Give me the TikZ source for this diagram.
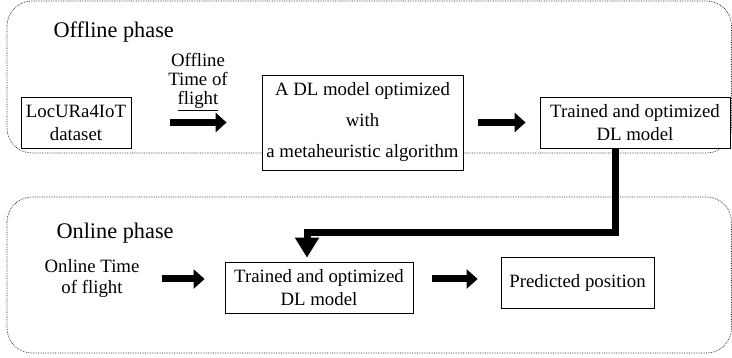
\documentclass[tikz,border=0pt]{standalone}
\usepackage{fontspec}
\setmainfont{Liberation Serif}
\usetikzlibrary{arrows.meta}

\begin{document}
\begin{tikzpicture}[x=1pt,y=-1pt,
    phase/.style={draw=black!85,densely dotted,line width=0.7pt,rounded corners=25pt},
    box/.style={draw,line width=0.8pt,fill=white,inner sep=0pt,align=center,font=\fontsize{18.8}{23}\selectfont},
    lbl/.style={align=center,font=\fontsize{18.8}{19}\selectfont},
    blockarrow/.style={line width=7pt,-{Triangle[length=11pt,width=19pt]}},
    fbarrow/.style={line width=7pt,-{Triangle[length=20pt,width=23pt]}}]
            \useasboundingbox (0,0) rectangle (732,358);
            \draw[phase] (7,1) rectangle (731.5,153);
            \draw[phase] (7,197) rectangle (731.5,353);
            \node[anchor=west,font=\fontsize{22.3}{26}\selectfont] (offph) at (50,32) {Offline phase};
            \node[anchor=west,font=\fontsize{22.3}{26}\selectfont] (onph) at (53,233) {Online phase};
            % offline part
            \node[box,minimum width=110pt,minimum height=51pt] (data) at (76,122.5) {LocURa4IoT\\dataset};
            \node[lbl] (offtof) at (198,82) {Offline\\Time of\\\underline{flight}};
            \node[box,minimum width=201pt,minimum height=95pt,font=\fontsize{18.8}{31}\selectfont] (dlmodel) at (362.5,122.5) {A DL model optimized\\with\\a metaheuristic algorithm};
            \node[box,minimum width=190pt,minimum height=51pt] (trained1) at (635,122.5) {Trained and optimized\\DL model};
            \draw[blockarrow,shorten <=39pt,shorten >=35pt] (data.east) -- (dlmodel.west);
            \draw[blockarrow,shorten <=15pt,shorten >=14pt] (dlmodel.east) -- (trained1.west);
            % online part
            \node[lbl,font=\fontsize{18.8}{21}\selectfont] (ontof) at (92,279) {Online Time\\of flight};
            \node[box,minimum width=188pt,minimum height=51pt] (trained2) at (319,287.5) {Trained and optimized\\DL model};
            \node[box,minimum width=153pt,minimum height=51pt] (predicted) at (577.5,282.5) {Predicted position};
            \draw[blockarrow,shorten <=19pt,shorten >=20pt] (ontof.east) -- (trained2.west |- ontof);
            \draw[blockarrow,shorten <=19pt,shorten >=23pt] (trained2.east |- ontof) -- (predicted.west |- ontof);
            \draw[fbarrow,shorten >=4pt] ([xshift=-20pt]trained1.south) |- ([xshift=-12pt]trained2.north |- 0,233) -- ([xshift=-12pt]trained2.north);
        \end{tikzpicture}
\end{document}
